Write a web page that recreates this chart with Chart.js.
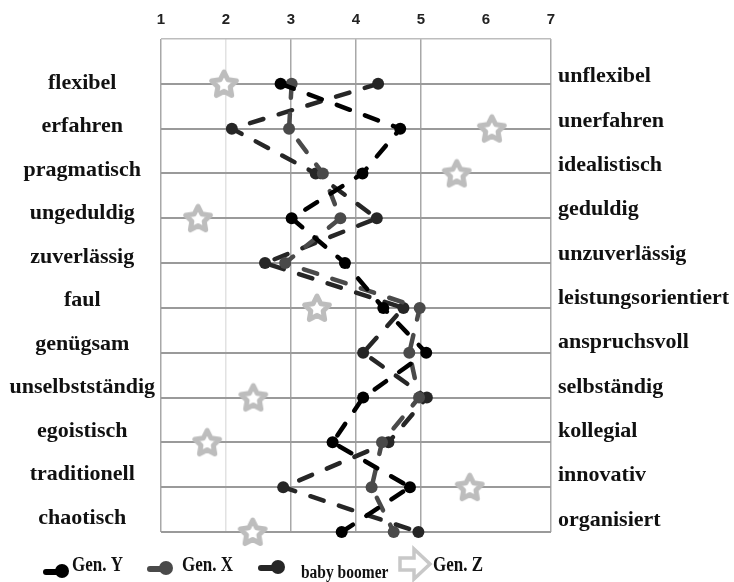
<!DOCTYPE html>
<html>
<head>
<meta charset="utf-8">
<script src="https://cdn.jsdelivr.net/npm/chart.js@4.4.1/dist/chart.umd.min.js"></script>
<style>
  html, body { margin: 0; padding: 0; background: #fff; }
</style>
</head>
<body>
<canvas id="graph1" width="734" height="582"></canvas>
<script>
  // ---------------- data ----------------
  const leftLabels = ['flexibel', 'erfahren', 'pragmatisch', 'ungeduldig', 'zuverlässig', 'faul',
    'genügsam', 'unselbstständig', 'egoistisch', 'traditionell', 'chaotisch']
  const rightLabels = ['unflexibel', 'unerfahren', 'idealistisch', 'geduldig', 'unzuverlässig',
    'leistungsorientiert', 'anspruchsvoll', 'selbständig', 'kollegial', 'innovativ', 'organisiert']
  const xTicks = [1, 2, 3, 4, 5, 6, 7]

  const genY   = [2.84, 4.68, 4.10, 3.01, 3.83, 4.42, 5.08, 4.11, 3.64, 4.83, 3.78]
  const genX   = [3.01, 2.97, 3.49, 3.76, 2.91, 4.98, 4.82, 4.97, 4.40, 4.24, 4.58]
  const boomer = [4.34, 2.09, 3.38, 4.32, 2.60, 4.73, 4.11, 5.09, 4.50, 2.88, 4.96]
  const genZ   = [1.97, 6.09, 5.55, 1.57, null, 3.40, null, 2.42, 1.71, 5.75, 2.41]

  const seriesNames = ['Gen. Y', 'Gen. X', 'baby boomer', 'Gen. Z']
  const colors = ['#000000', '#4a4a4a', '#262626', '#bdbdbd']

  const toPoints = arr => arr.map((v, i) => ({ x: v, y: i })).filter(p => p.x !== null)

  // five point outline star used as point style for Gen. Z
  function makeStar(size, color) {
    const c = document.createElement('canvas')
    c.width = size; c.height = size
    const g = c.getContext('2d')
    const cx = size / 2, cy = size / 2 + 1, R = size / 2 - 3, r = R * 0.5
    g.beginPath()
    for (let i = 0; i < 10; i++) {
      const a = -Math.PI / 2 + i * Math.PI / 5
      const rad = i % 2 ? r : R
      g.lineTo(cx + rad * Math.cos(a), cy + rad * Math.sin(a))
    }
    g.closePath()
    g.fillStyle = '#fff'
    g.fill()
    g.lineWidth = 5
    g.lineJoin = 'round'
    g.strokeStyle = color
    g.stroke()
    return c
  }
  const star = makeStar(32, colors[3])

  const lineSet = (i, arr) => ({
    label: seriesNames[i],
    data: toPoints(arr),
    borderColor: colors[i],
    backgroundColor: colors[i],
    borderWidth: 4.5,
    borderDash: [14, 16],
    borderCapStyle: 'round',
    pointRadius: 6,
    pointBorderWidth: 0,
    pointBackgroundColor: colors[i],
    tension: 0,
    clip: false
  })

  //---------------- legend drawn under the plot ----------------
  const legendPlugin = {
    id: 'bottomLegend',
    afterDraw(chart) {
      const g = chart.ctx
      g.save()
      const sym = (x0, x1, y, col) => {
        g.strokeStyle = col; g.fillStyle = col
        g.lineWidth = 6; g.lineCap = 'round'
        g.beginPath(); g.moveTo(x0, y); g.lineTo(x1, y); g.stroke()
        g.beginPath(); g.arc(x1 + 2, y - 1, 7, 0, Math.PI * 2); g.fill()
      }
      sym(46, 60, 572, colors[0])
      sym(150, 164, 569, colors[1])
      sym(261, 276, 568, colors[2])

      // arrow outline for Gen. Z
      g.strokeStyle = '#c8c8c8'; g.lineWidth = 3.5; g.lineJoin = 'miter'
      g.beginPath()
      g.moveTo(400, 558); g.lineTo(414, 558); g.lineTo(414, 549); g.lineTo(430, 564)
      g.lineTo(414, 579); g.lineTo(414, 570); g.lineTo(400, 570); g.closePath()
      g.stroke()

      g.fillStyle = '#111'
      g.textBaseline = 'middle'
      g.textAlign = 'left'
      // text in the source looks a bit stretched vertically
      const txt = (s, x, y, size) => {
        g.save()
        g.translate(x, y)
        g.scale(1, 1.2)
        g.font = 'bold ' + size + 'px "Liberation Serif"'
        g.fillText(s, 0, 0)
        g.restore()
      }
      txt(seriesNames[0], 72, 566, 17)
      txt(seriesNames[1], 182, 566, 17)
      txt(seriesNames[3], 433, 566, 17)
      txt(seriesNames[2], 301, 573, 15.5)
      g.restore()
    }
  }

  const labelFont = { family: '"Liberation Serif"', weight: 'bold', size: 22 }

  const ctx = document.getElementById('graph1')
  new Chart(ctx, {
    type: 'line',
    data: {
      datasets: [
        lineSet(0, genY),
        lineSet(1, genX),
        lineSet(2, boomer),
        {
          label: seriesNames[3],
          data: toPoints(genZ),
          showLine: false,
          pointStyle: star,
          borderColor: colors[3],
          backgroundColor: colors[3],
          clip: false,
          order: 5
        }
      ]
    },
    options: {
      responsive: false,
      animation: false,
      layout: { padding: { bottom: 50 } },
      plugins: { legend: { display: false }, tooltip: { enabled: false } },
      scales: {
        x: {
          type: 'linear', position: 'top', min: 1, max: 7,
          afterFit: s => { s.height = 39 },
          afterBuildTicks: s => { s.ticks = xTicks.map(v => ({ value: v })) },
          ticks: { padding: 10, color: '#222', font: { family: '"Liberation Sans"', weight: 'bold', size: 15 } },
          grid: {
            drawTicks: false,
            color: c => c.tick.value === 6 ? 'rgba(0,0,0,0)' : (c.tick.value === 2 ? '#e2e2e2' : '#a8a8a8'),
            lineWidth: 1.5
          },
          border: { display: false }
        },
        y: {
          type: 'linear', position: 'left', min: -1, max: 10, reverse: true,
          afterFit: s => { s.width = 0 },
          ticks: { display: false, stepSize: 1 },
          grid: {
            drawTicks: false,
            color: c => c.tick.value === -1 ? '#bdbdbd' : '#9a9a9a',
            lineWidth: c => c.tick.value === -1 ? 1.5 : 2
          },
          border: { display: false }
        },
        yL: {
          type: 'linear', position: 'left', min: -1.01, max: 10.32, reverse: true,
          afterFit: s => { s.width = 161 },
          afterBuildTicks: s => { s.ticks = leftLabels.map((_, i) => ({ value: i })) },
          ticks: { callback: v => leftLabels[v], crossAlign: 'center', padding: 6, color: '#111', font: labelFont },
          grid: { display: false, drawTicks: false },
          border: { display: false }
        },
        yR: {
          type: 'linear', position: 'right', min: -0.85, max: 10.27, reverse: true,
          afterFit: s => { s.width = 183 },
          afterBuildTicks: s => { s.ticks = rightLabels.map((_, i) => ({ value: i })) },
          ticks: { callback: v => rightLabels[v], padding: 7, color: '#111', font: labelFont },
          grid: { display: false, drawTicks: false },
          border: { display: false }
        }
      }
    },
    plugins: [legendPlugin]
  })
</script>
</body>
</html>
